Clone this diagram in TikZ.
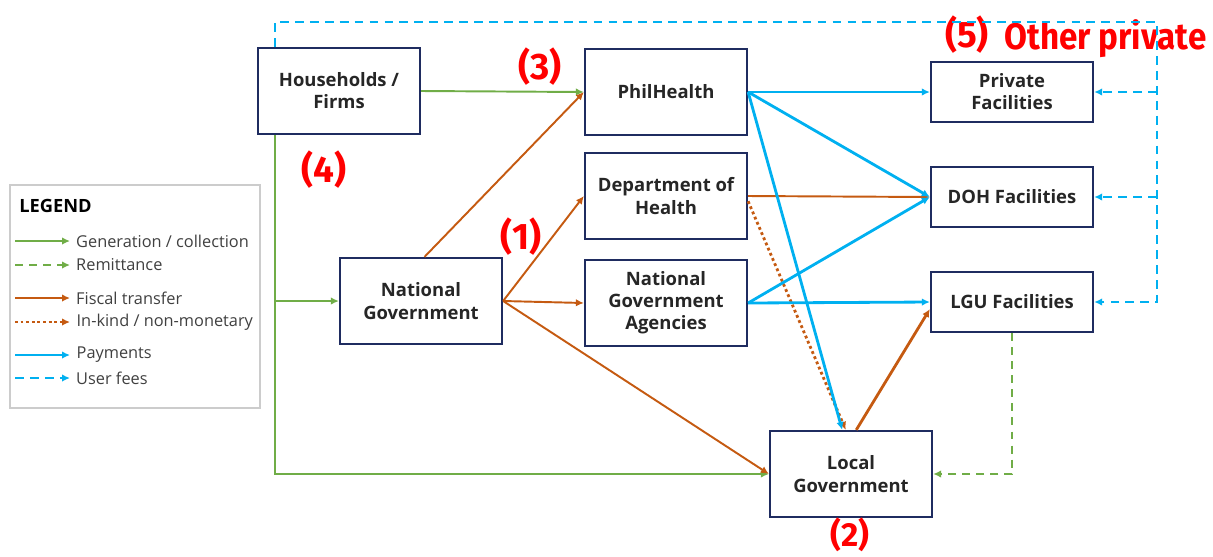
\documentclass[tikz,border=0pt]{standalone}
\usepackage{fontspec}
\setmainfont{Open Sans}
\newfontfamily\tagfont{Fira Sans}
\usetikzlibrary{arrows.meta,positioning}
\definecolor{gencol}{RGB}{112,173,71}
\definecolor{fiscol}{RGB}{197,90,17}
\definecolor{paycol}{RGB}{0,176,240}
\definecolor{boxcol}{RGB}{31,44,96}

\begin{document}
\begin{tikzpicture}[x=0.02cm,y=-0.02cm,>={Latex[length=1.6mm,width=1.5mm]},
		box/.style={rectangle,draw=boxcol,line width=1.3pt,minimum width=3.24cm,minimum height=1.72cm,
			align=center,text=black!85,font=\fontsize{10.5}{12.6}\selectfont\bfseries},
		fac/.style={box,minimum height=1.2cm},
		tag/.style={text=red,font=\tagfont\bfseries\fontsize{21}{24}\selectfont},
		gen/.style={->,draw=gencol,line width=1.1pt},
		remit/.style={gen,dash pattern=on 4.5pt off 3.5pt},
		fiscal/.style={->,draw=fiscol,line width=1.1pt},
		inkind/.style={fiscal,line width=1.6pt,dash pattern=on 1.6pt off 1.6pt},
		pay/.style={->,draw=paycol,line width=1.6pt},
		fee/.style={pay,line width=1.1pt,dash pattern=on 5pt off 3.5pt},
		legtxt/.style={anchor=west,inner sep=3pt,text=black!75,font=\fontsize{9.3}{11}\selectfont}]
		\useasboundingbox (0,0) rectangle (1213,556);
		
		% boxes
		\node[box] (hh)   at (339,91)   {Households /\\Firms};
		\node[box] (phil) at (666,92)   {PhilHealth};
		\node[box] (doh)  at (666,196)  {Department of\\Health};
		\node[box] (nga)  at (666,303)  {National\\Government\\Agencies};
		\node[box] (ng)   at (421,301)  {National\\Government};
		\node[box] (lg)   at (851,474)  {Local\\Government};
		\node[fac] (priv) at (1012,92)  {Private\\Facilities};
		\node[fac] (dohf) at (1012,197) {DOH Facilities};
		\node[fac] (lgu)  at (1012,302) {LGU Facilities};
		
		% red tags
		\node[tag] (t3) at (540,67)  {(3)};
		\node[tag] (t4) at (324,170) {(4)};
		\node[tag] (t1) at (521,237) {(1)};
		\node[tag,inner sep=0pt,font=\tagfont\bfseries\fontsize{19}{22}\selectfont] (t2) at (850,535) {(2)};
		\node[tag] (t5) at (967,35)  {(5)};
		\node[tag,anchor=west,inner sep=0pt] (t5b) at (1004,39) {\scalebox{0.9}[1]{Other private}};
		
		% generation / collection
		\coordinate (gtop) at (275,135);
		\draw[gen] (hh.east) -- (phil.west);
		\draw[gen] (gtop) |- (lg.west);
		\draw[gen] (gtop |- ng.west) -- (ng.west);
		\draw[remit] (lgu.south) |- (lg.east);
		
		% user fees
		\coordinate (ftop) at (1157,22);
		\draw[fee] (hh.north -| gtop) |- (ftop) |- (lgu.east);
		\draw[fee] (ftop |- priv.east) -- (priv.east);
		\draw[fee] (ftop |- dohf.east) -- (dohf.east);
		
		% fiscal transfers
		\draw[fiscal] ([xshift=2pt]ng.north) -- (phil.west);
		\draw[fiscal] (ng.east) -- (doh.west);
		\draw[fiscal] (ng.east) -- (nga.west);
		\draw[fiscal] (ng.east) -- (lg.west);
		\draw[fiscal] (doh.east) -- (dohf.west);
		\draw[inkind] ([yshift=-3pt]doh.east) -- ([xshift=-3pt]lg.north);
		\draw[fiscal,line width=1.6pt] ([xshift=3pt]lg.north) -- ([yshift=-4pt]lgu.west);
		
		% payments
		\draw[pay] (phil.east) -- (priv.west);
		\draw[pay] (phil.east) -- (dohf.west);
		\draw[pay] (phil.east) -- ([xshift=-5pt]lg.north);
		\draw[pay] (nga.east) -- (dohf.west);
		\draw[pay] (nga.east) -- (lgu.west);
		
		% legend
		\draw[black!20,line width=0.8pt] (10,185) rectangle (260,408);
		\node[anchor=west,inner sep=0pt,font=\fontsize{10.4}{12}\selectfont\bfseries] (leg) at (19,206) {LEGEND};
		\coordinate (l1a) at (15,241); \coordinate (l1b) at (70,241);
		\coordinate (l2a) at (15,265); \coordinate (l2b) at (70,265);
		\coordinate (l3a) at (15,298); \coordinate (l3b) at (70,298);
		\coordinate (l4a) at (15,322); \coordinate (l4b) at (70,322);
		\coordinate (l5a) at (15,355); \coordinate (l5b) at (70,355);
		\coordinate (l6a) at (15,378); \coordinate (l6b) at (70,378);
		\draw[gen]    (l1a) -- (l1b) node[legtxt] (g1) {Generation / collection};
		\draw[remit]  (l2a) -- (l2b) node[legtxt] (g2) {Remittance};
		\draw[fiscal] (l3a) -- (l3b) node[legtxt] (g3) {Fiscal transfer};
		\draw[inkind] (l4a) -- (l4b) node[legtxt] (g4) {In-kind / non-monetary};
		\draw[pay]    (l5a) -- (l5b) node[legtxt] (g5) {Payments};
		\draw[fee]    (l6a) -- (l6b) node[legtxt] (g6) {User fees};
\end{tikzpicture}
\end{document}
